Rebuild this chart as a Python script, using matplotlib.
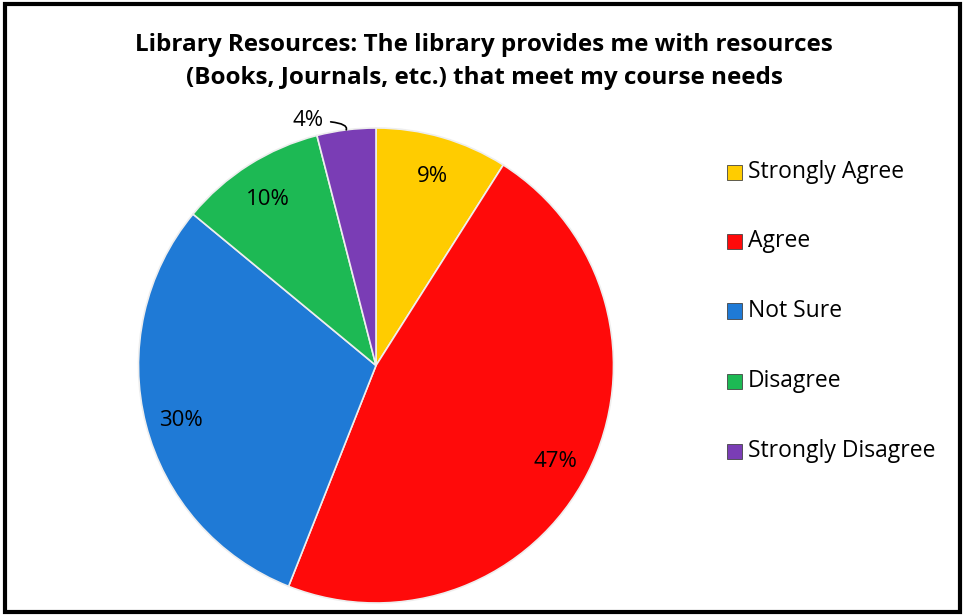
import matplotlib
matplotlib.use("Agg")
import matplotlib.pyplot as plt
from matplotlib.patches import Rectangle
import numpy as np

categories = ["Strongly Agree", "Agree", "Not Sure", "Disagree", "Strongly Disagree"]
values = [9, 47, 30, 10, 4]
colors = ["#FFCC00", "#FF0A0A", "#1F7AD6", "#1DB954", "#7A3DB5"]
title_lines = ["Library Resources: The library provides me with resources",
               "(Books, Journals, etc.) that meet my course needs"]

W, H = 965, 616
fig = plt.figure(figsize=(W / 100, H / 100), dpi=100)
plt.rcParams['font.family'] = ['Open Sans', 'DejaVu Sans']

cx, cy, R = 376, 365.5, 237.5
ax = fig.add_axes([(cx - R) / W, (H - cy - R) / H, 2 * R / W, 2 * R / H])
wedges, texts = ax.pie(values, colors=colors, startangle=90, counterclock=False,
                       wedgeprops=dict(edgecolor="#eeeeee", linewidth=1.2))
ax.set_xlim(-1, 1)
ax.set_ylim(-1, 1)
ax.set_aspect('equal')
ax.axis('off')

for w, v in zip(wedges, values):
    ang = np.deg2rad((w.theta1 + w.theta2) / 2)
    if v >= 5:
        ax.text(0.85 * np.cos(ang), 0.85 * np.sin(ang) - 0.02, f"{v}%", ha='center',
                va='center', fontsize=16, color='black')
    else:
        x0, y0 = np.cos(ang), np.sin(ang)
        ax.annotate(f"{v}%", xy=(x0, y0), xytext=(-0.22, 1.03),
                    ha='right', va='center', fontsize=16,
                    arrowprops=dict(arrowstyle='-', color='black', lw=1.2,
                                    connectionstyle="angle3,angleA=0,angleB=70",
                                    shrinkA=3, shrinkB=0))

# legend
ys = [172, 241, 311, 381, 451]
for cat, col, y in zip(categories, colors, ys):
    fig.patches.append(Rectangle((727 / W, (H - y - 7.5) / H), 15 / W, 15 / H,
                                 transform=fig.transFigure, facecolor=col,
                                 edgecolor='#444444', linewidth=0.6))
    fig.text(748 / W, (H - y) / H, cat, ha='left', va='center', fontsize=16.5)

for yy, line in zip([45, 78], title_lines):
    fig.text(484 / W, (H - yy) / H, line, ha='center', va='center', fontsize=17.5,
             fontweight='bold')

fig.patches.append(Rectangle((5 / W, 4 / H), (W - 10) / W, (H - 8) / H,
                             transform=fig.transFigure, fill=False,
                             edgecolor='black', linewidth=3))

fig.savefig("out.png", dpi=100)
